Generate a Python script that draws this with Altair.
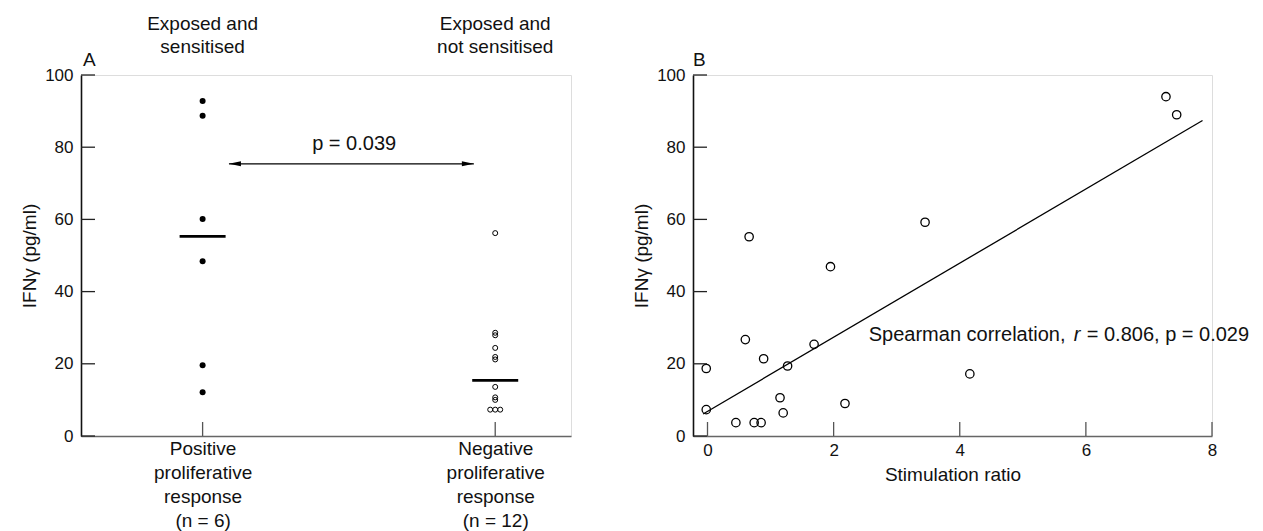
import json
import altair as alt
import pandas as pd

FONT = "Liberation Sans"

# ---------------- Panel A data ----------------
categories = ["Positive\nproliferative\nresponse\n(n = 6)",
              "Negative\nproliferative\nresponse\n(n = 12)"]
group_titles = ["Exposed and\nsensitised", "Exposed and\nnot sensitised"]
positive_values = [92.8, 88.7, 60.1, 48.4, 19.6, 12.1]
negative_values = [56.2, 28.6, 27.9, 24.4, 21.9, 21.2, 13.6, 10.7, 10.0, 7.3, 7.3, 7.3]
group_means = [55.3, 15.4]
p_text_a = "p = 0.039"
p_text_a_pos = [0.518, 80.8]
arrow_x = [0.09, 0.927]
arrow_y = [75.4]
y_ticks = [0, 20, 40, 60, 80, 100]

# ---------------- Panel B data ----------------
stim_ratio = [7.27, 7.44, 3.45, 0.66, 1.95, 0.60, 1.69, 0.89, -0.02, 1.27,
              4.16, 1.15, 2.18, 1.20, -0.02, 0.45, 0.74, 0.85]
ifn_b = [94.0, 89.0, 59.2, 55.2, 46.9, 26.7, 25.4, 21.4, 18.7, 19.4,
         17.2, 10.6, 9.0, 6.4, 7.3, 3.7, 3.7, 3.7]
fit_x = [-0.07, 7.85]
fit_y = [6.1, 87.4]
x_ticks_b = [0, 2, 4, 6, 8]
spearman_parts = ["Spearman correlation,", "r", "= 0.806, p = 0.029"]
spearman_pos = [2.557, 26.3]

# ---------------- geometry / style ----------------
WA, WB, H = 490, 519, 361
XDOM_A = [-0.4156, 1.259]
XDOM_B = [-0.23, 8]
TICK = 14
px_per_unit_a = WA / (XDOM_A[1] - XDOM_A[0])
JIT = 5 / px_per_unit_a

rows = []
for gi, vals in enumerate([positive_values, negative_values]):
    for v in vals:
        rows.append({"g": gi, "v": v, "filled": gi == 0})
dfA = pd.DataFrame(rows)
dfA["k"] = dfA.groupby(["g", "v"]).cumcount()
dfA["n"] = dfA.groupby(["g", "v"])["v"].transform("count")
dfA["xp"] = dfA["g"] + (dfA["k"] - (dfA["n"] - 1) / 2) * JIT

yscale = alt.Scale(domain=[0, 100], nice=False, zero=True)
xscaleA = alt.Scale(domain=XDOM_A, nice=False, zero=False)
xscaleB = alt.Scale(domain=XDOM_B, nice=False, zero=False)

label_expr = json.dumps([c.split("\n") for c in categories]) + "[round(datum.value)]"

yaxis = alt.Axis(values=y_ticks, ticks=False, grid=False, labelPadding=8,
                 labelFontSize=17, labelColor="#111", labelFont=FONT, format="d",
                 title="IFNγ (pg/ml)", titleFontSize=19, titleFontWeight="normal",
                 titleFont=FONT, titleColor="#111", titlePadding=5,
                 domainColor="#111", domainWidth=1.6)

xaxisA = alt.Axis(values=[0, 1], labelExpr=label_expr, ticks=False, grid=False,
                  labelFontSize=19, labelLineHeight=24, labelPadding=3,
                  labelFlush=False, labelOverlap=False, labelColor="#111",
                  labelFont=FONT, title=None, domainColor="#666", domainWidth=1.5)

xaxisB = alt.Axis(values=x_ticks_b, ticks=False, grid=False, labelPadding=6,
                  labelFontSize=17, labelFlush=False, labelOverlap=False, format="d",
                  labelColor="#111", labelFont=FONT,
                  title="Stimulation ratio", titleFontSize=19, titleFontWeight="normal",
                  titleFont=FONT, titleColor="#111", titlePadding=7,
                  domainColor="#666", domainWidth=1.5)

# ---------------- Panel A layers ----------------
baseA = alt.Chart(dfA)

ptsA_fill = baseA.transform_filter("datum.filled").mark_circle(
    size=36, color="#000", opacity=1).encode(
    x=alt.X("xp:Q", scale=xscaleA, axis=xaxisA),
    y=alt.Y("v:Q", scale=yscale, axis=yaxis))

ptsA_open = baseA.transform_filter("!datum.filled").mark_point(
    size=25, color="#000", strokeWidth=1, filled=False, opacity=1).encode(
    x=alt.X("xp:Q", scale=xscaleA), y=alt.Y("v:Q", scale=yscale))

means = alt.Chart(pd.DataFrame({"g": [0, 1], "m": group_means})).mark_tick(
    orient="horizontal", size=46, thickness=2.6, color="#000", opacity=1).encode(
    x=alt.X("g:Q", scale=xscaleA), y=alt.Y("m:Q", scale=yscale))

yticksA = alt.Chart(pd.DataFrame({"t": y_ticks})).mark_tick(
    orient="horizontal", size=TICK, thickness=1.3, color="#222", opacity=1).encode(
    y=alt.Y("t:Q", scale=yscale), x=alt.value(TICK / 2))

xticksA = alt.Chart(pd.DataFrame({"g": [0, 1]})).mark_tick(
    orient="vertical", size=TICK, thickness=1.3, color="#555", opacity=1).encode(
    x=alt.X("g:Q", scale=xscaleA), y=alt.value(H - TICK / 2))

arrow_df = pd.DataFrame({"x": [arrow_x[0]], "x2": [arrow_x[1]], "y": arrow_y})
arrow_line = alt.Chart(arrow_df).mark_rule(color="#000", strokeWidth=1.2).encode(
    x=alt.X("x:Q", scale=xscaleA), x2="x2:Q", y=alt.Y("y:Q", scale=yscale))

head_df = pd.DataFrame({"x": arrow_x, "y": arrow_y * 2,
                        "s": ["M 0 0 L 2 -0.42 L 2 0.42 Z", "M 0 0 L -2 -0.42 L -2 0.42 Z"]})
heads = alt.Chart(head_df).mark_point(filled=True, size=144, color="#000", opacity=1).encode(
    x=alt.X("x:Q", scale=xscaleA), y=alt.Y("y:Q", scale=yscale),
    shape=alt.Shape("s:N", scale=None, legend=None))

p_text = alt.Chart(pd.DataFrame({"x": [p_text_a_pos[0]], "y": [p_text_a_pos[1]],
                                 "t": [p_text_a]})).mark_text(
    fontSize=20, font=FONT, color="#111", baseline="middle", align="center").encode(
    x=alt.X("x:Q", scale=xscaleA), y=alt.Y("y:Q", scale=yscale), text="t:N")

titles_df = pd.DataFrame({"g": [0, 1], "t": [t.split("\n") for t in group_titles]})
group_text = alt.Chart(titles_df).mark_text(
    fontSize=19, font=FONT, color="#111", baseline="alphabetic", align="center",
    lineHeight=23.4).encode(
    x=alt.X("g:Q", scale=xscaleA), y=alt.value(-45), text="t")

labelA = alt.Chart(pd.DataFrame({"t": ["A"]})).mark_text(
    fontSize=19, font=FONT, color="#111", baseline="alphabetic", align="left").encode(
    x=alt.value(2), y=alt.value(-9), text="t:N")

panelA = alt.layer(ptsA_fill, ptsA_open, means, yticksA, xticksA, arrow_line, heads,
                   p_text, group_text, labelA).properties(width=WA, height=H)

# ---------------- Panel B layers ----------------
dfB = pd.DataFrame({"x": stim_ratio, "y": ifn_b})
ptsB = alt.Chart(dfB).mark_point(size=70, color="#000", strokeWidth=1.3,
                                 filled=False, opacity=1).encode(
    x=alt.X("x:Q", scale=xscaleB, axis=xaxisB),
    y=alt.Y("y:Q", scale=yscale, axis=yaxis))

fit = alt.Chart(pd.DataFrame({"x": fit_x, "y": fit_y})).mark_line(
    color="#000", strokeWidth=1.3).encode(
    x=alt.X("x:Q", scale=xscaleB), y=alt.Y("y:Q", scale=yscale))

yticksB = alt.Chart(pd.DataFrame({"t": y_ticks})).mark_tick(
    orient="horizontal", size=TICK, thickness=1.3, color="#222", opacity=1).encode(
    y=alt.Y("t:Q", scale=yscale), x=alt.value(TICK / 2))

xticksB = alt.Chart(pd.DataFrame({"t": x_ticks_b})).mark_tick(
    orient="vertical", size=TICK, thickness=1.3, color="#555", opacity=1).encode(
    x=alt.X("t:Q", scale=xscaleB), y=alt.value(H - TICK / 2))

sp_df = pd.DataFrame({"x": [spearman_pos[0]], "y": [spearman_pos[1]]})
sp1 = alt.Chart(sp_df).mark_text(fontSize=20, font=FONT, color="#111",
                                 align="left", baseline="alphabetic",
                                 text=spearman_parts[0]).encode(
    x=alt.X("x:Q", scale=xscaleB), y=alt.Y("y:Q", scale=yscale))
sp2 = alt.Chart(sp_df).mark_text(fontSize=20, font=FONT, color="#111", fontStyle="italic",
                                 align="left", baseline="alphabetic", dx=205,
                                 text=spearman_parts[1]).encode(
    x=alt.X("x:Q", scale=xscaleB), y=alt.Y("y:Q", scale=yscale))
sp3 = alt.Chart(sp_df).mark_text(fontSize=20, font=FONT, color="#111",
                                 align="left", baseline="alphabetic", dx=218,
                                 text=spearman_parts[2]).encode(
    x=alt.X("x:Q", scale=xscaleB), y=alt.Y("y:Q", scale=yscale))

labelB = alt.Chart(pd.DataFrame({"t": ["B"]})).mark_text(
    fontSize=19, font=FONT, color="#111", baseline="alphabetic", align="left").encode(
    x=alt.value(0), y=alt.value(-9.5), text="t:N")

panelB = alt.layer(ptsB, fit, yticksB, xticksB, sp1, sp2, sp3, labelB).properties(
    width=WB, height=H)

chart = alt.hconcat(panelA, panelB, spacing=60).properties(
    padding={"left": 12, "top": 6, "right": 5, "bottom": 5},
    background="white"
).configure_view(stroke=None).configure(font=FONT)

chart.save("out.html", embed_options={"renderer": "svg", "actions": False})
